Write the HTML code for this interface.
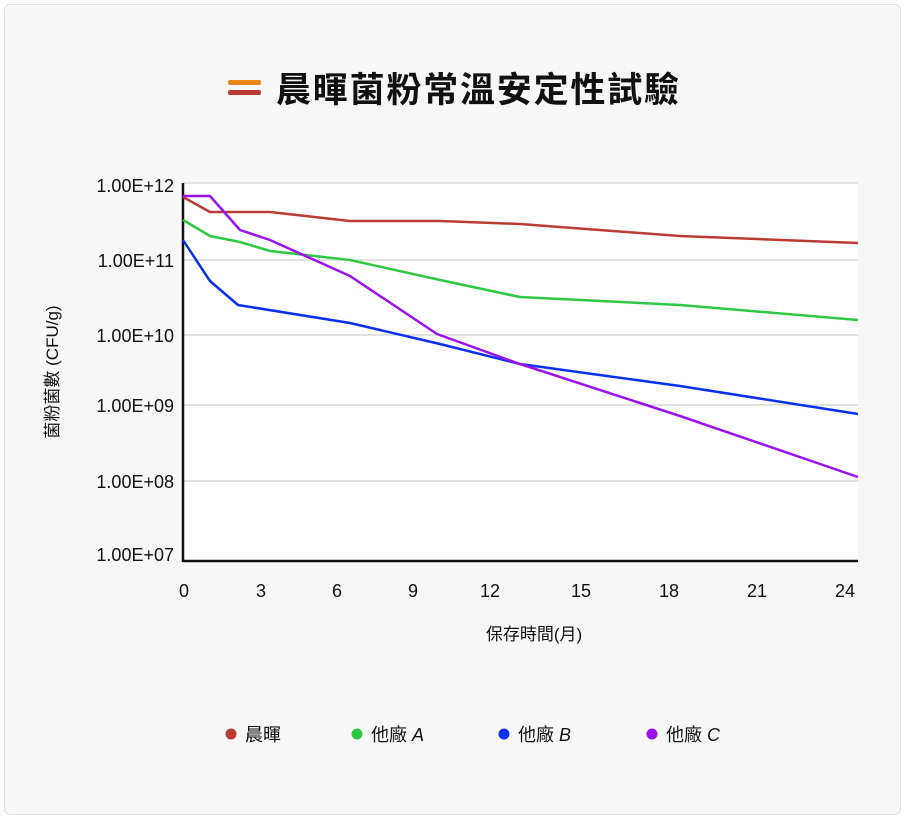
<!DOCTYPE html>
<html><head><meta charset="utf-8"><style>
body{margin:0;background:#fff;}
.card{position:absolute;left:4px;top:4px;width:895px;height:809px;background:#f7f7f7;border:1px solid #e2e2e2;border-radius:6px;}
text{font-family:"Liberation Sans","Noto Sans CJK TC",sans-serif;}
</style></head><body>
<div class="card"></div>
<svg width="905" height="819" style="position:absolute;left:0;top:0">
<rect x="228" y="80" width="33" height="5" rx="2" fill="#e8891a"/>
<rect x="228" y="90" width="33" height="5" rx="2" fill="#b93b33"/>
<text x="276" y="102" font-size="35" font-weight="bold" letter-spacing="1.8" fill="#111">晨暉菌粉常溫安定性試驗</text>
<rect x="183" y="183" width="675" height="378" fill="#fff"/>
<g stroke="#d8d8d8" stroke-width="1.5">
<line x1="183" y1="183" x2="858" y2="183"/><line x1="183" y1="260" x2="858" y2="260"/>
<line x1="183" y1="335" x2="858" y2="335"/><line x1="183" y1="405" x2="858" y2="405"/>
<line x1="183" y1="481" x2="858" y2="481"/>
</g>
<line x1="183" y1="561" x2="858" y2="561" stroke="#111" stroke-width="2.5"/>
<line x1="183" y1="183" x2="183" y2="562" stroke="#111" stroke-width="2.5"/>
<g font-size="18" fill="#111" text-anchor="end">
<text x="174" y="192">1.00E+12</text><text x="174" y="267">1.00E+11</text>
<text x="174" y="342">1.00E+10</text><text x="174" y="412">1.00E+09</text>
<text x="174" y="488">1.00E+08</text><text x="174" y="561">1.00E+07</text>
</g>
<g font-size="18" fill="#111" text-anchor="middle">
<text x="184" y="597">0</text><text x="261" y="597">3</text><text x="337" y="597">6</text>
<text x="413" y="597">9</text><text x="490" y="597">12</text><text x="581" y="597">15</text>
<text x="669" y="597">18</text><text x="757" y="597">21</text><text x="845" y="597">24</text>
</g>
<text x="534" y="640" font-size="17" fill="#111" text-anchor="middle">保存時間(月)</text>
<text transform="translate(58,372) rotate(-90)" font-size="17" fill="#111" text-anchor="middle">菌粉菌數 (CFU/g)</text>
<g fill="none" stroke-width="2.5" stroke-linejoin="round">
<polyline stroke="#b93b33" points="183,197 210,212 270,212 350,221 440,221 520,224 680,236 858,243"/>
<polyline stroke="#2ec845" points="183,220 210,236 240,242 270,251 350,260 440,280 520,297 680,305 858,320"/>
<polyline stroke="#0a2ff0" points="183,240 210,281 238,305 350,323 440,344 520,364 680,386 858,414"/>
<polyline stroke="#9b12ef" points="183,196 210,196 240,230 270,240 350,276 437,334 520,364 680,416 858,477"/>
</g>
<g font-size="18" fill="#111">
<circle cx="231" cy="734" r="5.5" fill="#b93b33"/><text x="245" y="741">晨暉</text>
<circle cx="357" cy="734" r="5.5" fill="#2ec845"/><text x="371" y="741">他廠 <tspan font-style="italic">A</tspan></text>
<circle cx="504" cy="734" r="5.5" fill="#0a2ff0"/><text x="518" y="741">他廠 <tspan font-style="italic">B</tspan></text>
<circle cx="652" cy="734" r="5.5" fill="#9b12ef"/><text x="666" y="741">他廠 <tspan font-style="italic">C</tspan></text>
</g>
</svg>
</body></html>
